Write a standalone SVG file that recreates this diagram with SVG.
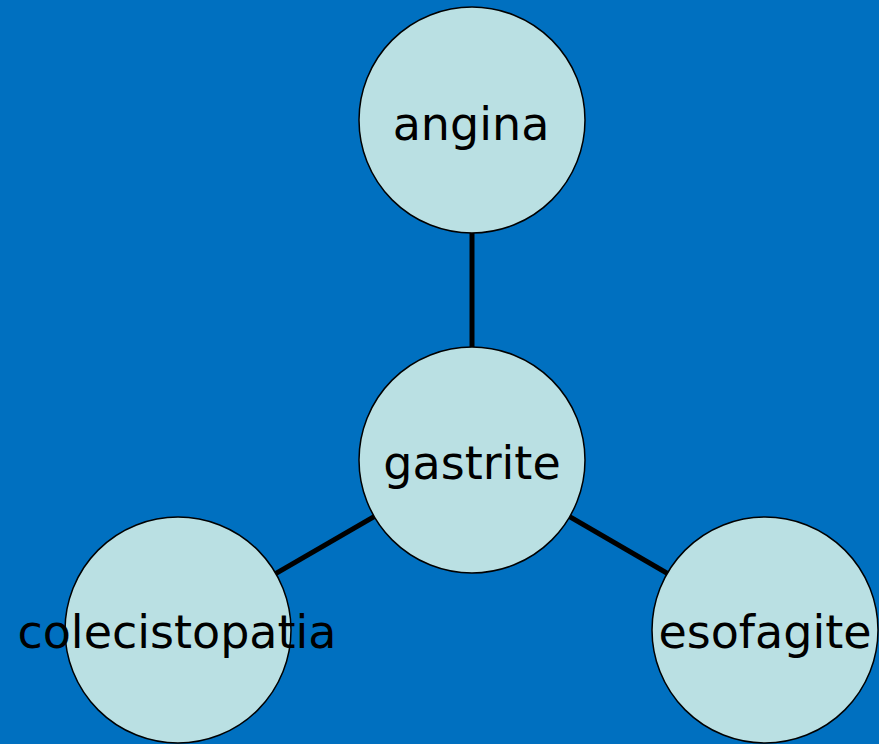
<svg xmlns="http://www.w3.org/2000/svg" width="879" height="744" viewBox="0 0 879 744">
<style>
.node{fill:#BAE0E3;stroke:#000;stroke-width:1.5}
.lbl{font-family:"DejaVu Sans",sans-serif;font-size:46px;fill:#000;text-anchor:middle}
.edge{stroke:#000;stroke-width:5;fill:none}
</style>
<rect width="879" height="744" fill="#0070C0"/>
<g id="connectors">
<line class="edge" x1="472" y1="120" x2="472" y2="460"/>
<line class="edge" x1="472" y1="460" x2="178" y2="630"/>
<line class="edge" x1="472" y1="460" x2="765" y2="630"/>
</g>
<g id="angina"><circle class="node" cx="472" cy="120" r="113"/><text class="lbl" x="471" y="140">angina</text></g>
<g id="gastrite"><circle class="node" cx="472" cy="460" r="113"/><text class="lbl" x="472" y="479">gastrite</text></g>
<g id="colecistopatia"><circle class="node" cx="178" cy="630" r="113"/><text class="lbl" x="177" y="648">colecistopatia</text></g>
<g id="esofagite"><circle class="node" cx="765" cy="630" r="113"/><text class="lbl" x="765" y="648">esofagite</text></g>
</svg>
